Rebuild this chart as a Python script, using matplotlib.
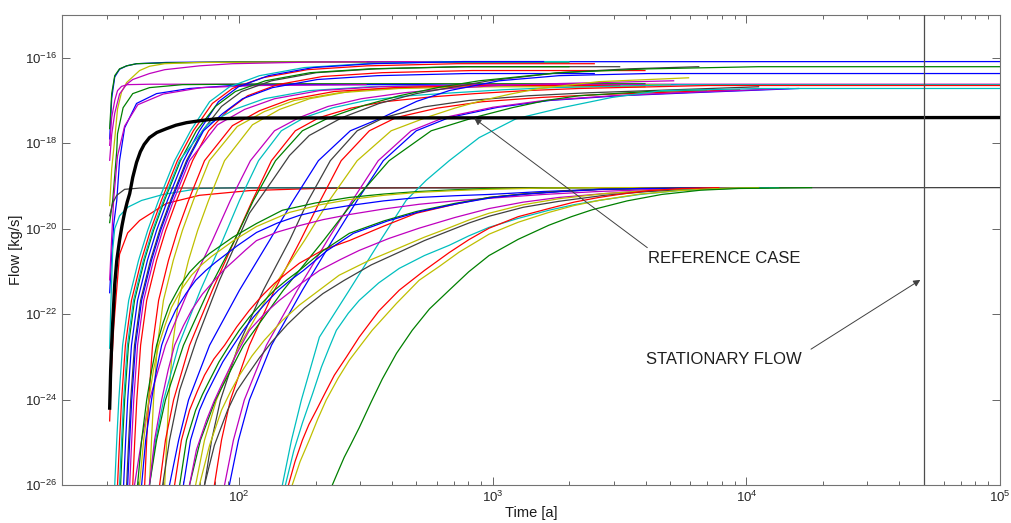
import matplotlib
matplotlib.use("Agg")
import matplotlib.pyplot as plt
import numpy as np
from matplotlib.ticker import FixedLocator, NullLocator, LogLocator, NullFormatter, LogFormatterSciNotation

plt.rcParams['font.family'] = ['Liberation Sans', 'DejaVu Sans']

# ---------------------------------------------------------------------------
# Flow curves: (colour code, log10 time [a], log10 flow [kg/s])
# ---------------------------------------------------------------------------

# cases that respond immediately after the start of the simulation
early_curves = [
    ("b", [1.489, 1.497, 1.509, 1.528, 1.556, 1.595, 1.713, 2.0, 5.0],
          [-17.9, -16.95, -16.45, -16.27, -16.19, -16.14, -16.11, -16.095, -16.09]),
    ("g", [1.489, 1.497, 1.509, 1.528, 1.556, 1.595, 1.713, 2.0, 3.3],
          [-17.66, -16.84, -16.42, -16.26, -16.19, -16.14, -16.12, -16.10, -16.10]),
    ("y", [1.489, 1.497, 1.509, 1.520, 1.536, 1.556, 1.607, 1.646, 1.706, 1.843, 2.2, 2.5],
          [-19.46, -18.6, -17.9, -17.2, -16.8, -16.58, -16.30, -16.2, -16.14, -16.11, -16.10, -16.10]),
    ("m", [1.489, 1.497, 1.509, 1.520, 1.536, 1.560, 1.65, 5.0],
          [-18.05, -17.4, -17.0, -16.77, -16.67, -16.63, -16.62, -16.62]),
    ("m", [1.489, 1.497, 1.509, 1.528, 1.556, 1.580, 1.646, 1.706, 1.843, 1.973, 2.3, 2.8],
          [-18.4, -17.8, -17.3, -16.85, -16.62, -16.51, -16.37, -16.28, -16.19, -16.14, -16.10, -16.09]),
    ("g", [1.489, 1.501, 1.517, 1.520, 1.542, 1.580, 1.646, 1.776, 2.2, 3.6],
          [-19.86, -19.34, -18.17, -17.78, -17.17, -16.84, -16.70, -16.63, -16.61, -16.61]),
    ("b", [1.489, 1.497, 1.505, 1.517, 1.528, 1.548, 1.595, 1.674, 1.804, 1.973, 2.3, 5.0],
          [-21.5, -20.6, -19.9, -19.34, -18.41, -17.64, -17.07, -16.84, -16.72, -16.65, -16.63, -16.63]),
    ("m", [1.489, 1.497, 1.505, 1.520, 1.548, 1.60, 1.70, 1.85, 2.08, 2.5],
          [-21.2, -20.2, -19.3, -18.3, -17.6, -17.1, -16.85, -16.7, -16.65, -16.63]),
    ("c", [1.489, 1.493, 1.497, 1.501, 1.509, 1.528, 1.560, 1.615, 1.70, 1.843, 2.0, 3.2],
          [-22.8, -21.9, -21.2, -20.5, -20.0, -19.7, -19.5, -19.34, -19.2, -19.06, -19.04, -19.04]),
    ("r", [1.489, 1.497, 1.505, 1.513, 1.528, 1.560, 1.607, 1.713, 1.843, 2.04, 2.3, 2.7, 3.3],
          [-24.5, -23.2, -22.3, -21.7, -20.6, -20.1, -19.81, -19.41, -19.22, -19.11, -19.06, -19.04, -19.04]),
    ("k", [1.489, 1.501, 1.517, 1.548, 1.607, 5.0],
          [-19.7, -19.4, -19.22, -19.08, -19.05, -19.04]),
]

# steep break-through curves reaching the upper plateaus early
steep_curves = [
    ("c", [1.509, 1.517, 1.525, 1.540, 1.564, 1.603, 1.639, 1.682, 1.745, 1.808, 1.883, 1.962, 2.080, 2.257, 2.493, 2.848, 3.3],
          [-26.00, -24.95, -24.01, -22.73, -21.68, -20.74, -20.04, -19.34, -18.41, -17.71, -17.03, -16.68, -16.42, -16.23, -16.14, -16.09, -16.09]),
    ("r", [1.520, 1.528, 1.536, 1.551, 1.575, 1.614, 1.650, 1.693, 1.756, 1.819, 1.894, 1.973, 2.091, 2.268, 2.504, 2.859, 3.4],
          [-26.00, -24.95, -24.01, -22.73, -21.68, -20.74, -20.04, -19.34, -18.41, -17.71, -17.07, -16.72, -16.47, -16.28, -16.19, -16.14, -16.14]),
    ("b", [1.544, 1.552, 1.560, 1.575, 1.599, 1.638, 1.674, 1.717, 1.780, 1.843, 1.918, 1.997, 2.115, 2.292, 2.528, 2.883, 3.2],
          [-26.00, -24.95, -24.01, -22.73, -21.68, -20.74, -20.04, -19.34, -18.41, -17.71, -17.03, -16.68, -16.42, -16.23, -16.14, -16.09, -16.09]),
    ("k", [1.556, 1.564, 1.572, 1.587, 1.611, 1.650, 1.686, 1.729, 1.792, 1.855, 1.930, 2.009, 2.127, 2.304, 2.540, 2.895, 3.5],
          [-26.00, -24.95, -24.01, -22.73, -21.68, -20.74, -20.04, -19.34, -18.41, -17.71, -17.14, -16.79, -16.54, -16.35, -16.26, -16.21, -16.21]),
    ("r", [1.580, 1.588, 1.596, 1.611, 1.635, 1.674, 1.710, 1.753, 1.816, 1.879, 1.954, 2.033, 2.151, 2.328, 2.564, 2.919, 3.6],
          [-26.00, -24.95, -24.01, -22.73, -21.68, -20.74, -20.04, -19.34, -18.41, -17.71, -17.24, -16.89, -16.63, -16.44, -16.35, -16.30, -16.30]),
    ("g", [1.532, 1.540, 1.548, 1.563, 1.587, 1.626, 1.662, 1.705, 1.768, 1.831, 1.906, 1.985, 2.103, 2.280, 2.516, 2.871, 3.3],
          [-26.00, -24.95, -24.01, -22.73, -21.68, -20.74, -20.04, -19.34, -18.41, -17.71, -17.14, -16.79, -16.54, -16.35, -16.26, -16.21, -16.21]),
    ("c", [1.528, 1.536, 1.544, 1.559, 1.583, 1.622, 1.658, 1.701, 1.764, 1.874, 1.981, 2.099, 2.276, 2.512, 2.867, 3.5],
          [-26.00, -24.95, -24.01, -22.73, -21.68, -20.74, -20.04, -19.34, -18.41, -17.57, -17.21, -16.96, -16.77, -16.68, -16.63, -16.63]),
    ("y", [1.646, 1.654, 1.662, 1.677, 1.701, 1.740, 1.776, 1.819, 1.882, 1.992, 2.099, 2.217, 2.394, 2.630, 2.985, 3.6],
          [-26.00, -24.95, -24.01, -22.73, -21.68, -20.74, -20.04, -19.34, -18.41, -17.61, -17.26, -17.00, -16.82, -16.72, -16.68, -16.68]),
    ("y", [1.706, 1.714, 1.722, 1.737, 1.761, 1.800, 1.836, 1.879, 1.942, 2.052, 2.159, 2.277, 2.454, 2.690, 3.045, 3.7],
          [-26.00, -24.95, -24.01, -22.73, -21.68, -20.74, -20.04, -19.34, -18.41, -17.57, -17.21, -16.96, -16.77, -16.68, -16.63, -16.63]),
    ("m", [1.568, 1.576, 1.584, 1.599, 1.623, 1.662, 1.698, 1.741, 1.804, 1.914, 2.021, 2.139, 2.316, 2.552, 2.907, 3.6],
          [-26.00, -24.95, -24.01, -22.73, -21.68, -20.74, -20.04, -19.34, -18.41, -17.57, -17.21, -16.96, -16.77, -16.68, -16.63, -16.63]),
    ("b", [1.560, 1.568, 1.576, 1.591, 1.615, 1.654, 1.690, 1.733, 1.796, 1.859, 1.934, 2.013, 2.131, 2.308, 2.544, 2.899, 3.4],
          [-26.00, -24.95, -24.01, -22.73, -21.68, -20.74, -20.04, -19.34, -18.41, -17.71, -17.31, -16.96, -16.70, -16.51, -16.42, -16.37, -16.37]),
    ("r", [1.627, 1.635, 1.643, 1.658, 1.682, 1.721, 1.757, 1.800, 1.863, 1.973, 2.080, 2.198, 2.375, 2.611, 2.966, 3.5],
          [-26.00, -24.95, -24.01, -22.73, -21.68, -20.74, -20.04, -19.34, -18.41, -17.59, -17.24, -16.98, -16.79, -16.70, -16.65, -16.65]),
]

# slower break-through curves reaching the upper plateaus later
late_curves = [
    ("m", [1.587, 1.615, 1.646, 1.709, 1.800, 1.894, 1.965, 2.044, 2.139, 2.237, 2.35, 2.481, 2.65, 2.828, 3.02, 3.221, 3.713],
          [-26.00, -24.95, -24.01, -22.73, -21.44, -20.28, -19.34, -18.41, -17.71, -17.40, -17.14, -16.96, -16.82, -16.72, -16.65, -16.61, -16.54]),
    ("c", [1.646, 1.670, 1.702, 1.761, 1.847, 1.934, 2.001, 2.076, 2.166, 2.257, 2.37, 2.501, 2.67, 2.847, 3.04, 3.241, 3.733, 5.0],
          [-26.00, -24.95, -24.01, -22.73, -21.44, -20.28, -19.34, -18.41, -17.71, -17.40, -17.17, -17.00, -16.89, -16.82, -16.75, -16.70, -16.63, -16.63]),
    ("r", [1.686, 1.709, 1.741, 1.804, 1.894, 1.981, 2.052, 2.127, 2.221, 2.316, 2.44, 2.572, 2.75, 2.930, 3.13, 3.339, 3.851, 5.0],
          [-26.00, -24.95, -24.01, -22.73, -21.44, -20.28, -19.34, -18.41, -17.71, -17.40, -17.18, -17.03, -16.92, -16.84, -16.77, -16.72, -16.65, -16.65]),
    ("k", [1.698, 1.725, 1.765, 1.831, 1.922, 2.040, 2.131, 2.198, 2.276, 2.406, 2.552, 2.698, 2.985, 3.261, 3.536, 3.812],
          [-26.00, -24.95, -23.78, -22.61, -21.21, -19.64, -18.87, -18.29, -17.82, -17.40, -17.07, -16.84, -16.54, -16.35, -16.26, -16.21]),
    ("b", [1.725, 1.761, 1.800, 1.883, 2.001, 2.119, 2.213, 2.312, 2.438, 2.564, 2.70, 2.828, 3.024, 3.261, 3.615, 5.0],
          [-26.00, -24.95, -24.01, -22.73, -21.44, -20.28, -19.34, -18.41, -17.71, -17.40, -17.02, -16.77, -16.54, -16.42, -16.37, -16.37]),
    ("k", [1.863, 1.891, 1.926, 1.997, 2.095, 2.198, 2.272, 2.359, 2.465, 2.572, 2.73, 2.906, 3.14, 3.379, 4.048],
          [-26.00, -24.95, -24.01, -22.73, -21.44, -20.28, -19.34, -18.41, -17.71, -17.40, -17.15, -17.00, -16.89, -16.82, -16.68]),
    ("r", [1.902, 1.930, 1.965, 2.040, 2.139, 2.241, 2.320, 2.402, 2.513, 2.619, 2.78, 2.958, 3.19, 3.430, 3.973],
          [-26.00, -24.95, -24.01, -22.73, -21.44, -20.28, -19.34, -18.41, -17.71, -17.40, -17.18, -17.03, -16.93, -16.86, -16.75]),
    ("y", [1.828, 1.863, 1.910, 2.001, 2.127, 2.257, 2.355, 2.465, 2.599, 2.737, 2.85, 2.958, 3.07, 3.182, 3.418, 3.772],
          [-26.00, -24.95, -24.01, -22.73, -21.44, -20.28, -19.34, -18.41, -17.71, -17.40, -17.18, -17.00, -16.85, -16.72, -16.56, -16.47]),
    ("b", [1.961, 1.997, 2.040, 2.127, 2.249, 2.367, 2.465, 2.568, 2.698, 2.828, 3.02, 3.225, 3.50, 3.780, 4.206],
          [-26.00, -24.95, -24.01, -22.73, -21.44, -20.28, -19.34, -18.41, -17.71, -17.40, -17.16, -17.00, -16.89, -16.82, -16.72]),
    ("m", [1.942, 1.977, 2.020, 2.107, 2.229, 2.347, 2.446, 2.548, 2.678, 2.808, 3.00, 3.202, 3.47, 3.733, 4.166],
          [-26.00, -24.95, -24.01, -22.73, -21.44, -20.28, -19.34, -18.41, -17.71, -17.40, -17.16, -17.00, -16.89, -16.82, -16.72]),
    ("g", [1.804, 1.847, 1.906, 2.017, 2.174, 2.332, 2.454, 2.591, 2.757, 2.926, 3.076, 3.21, 3.339, 3.615, 3.843],
          [-26.00, -24.95, -24.01, -22.73, -21.44, -20.28, -19.34, -18.41, -17.71, -17.40, -17.17, -17.00, -16.89, -16.79, -16.75]),
    ("g", [1.646, 1.674, 1.709, 1.780, 1.879, 1.981, 2.056, 2.143, 2.249, 2.355, 2.49, 2.631, 2.79, 2.946, 3.261, 3.615, 4.048, 5.0],
          [-26.00, -24.95, -24.01, -22.73, -21.44, -20.28, -19.34, -18.41, -17.71, -17.40, -17.12, -16.89, -16.69, -16.54, -16.35, -16.26, -16.21, -16.21]),
    ("c", [2.170, 2.206, 2.245, 2.316, 2.434, 2.564, 2.658, 2.737, 2.828, 2.946, 3.091, 3.272, 3.469, 3.666, 4.060, 5.0],
          [-26.00, -24.95, -24.01, -22.54, -21.44, -20.21, -19.34, -18.87, -18.41, -17.87, -17.43, -17.17, -16.93, -16.77, -16.72, -16.72]),
]

# curves levelling off at the lower plateau
bundle_curves = [
    ("g", [1.599, 1.615, 1.635, 1.655, 1.674, 1.70, 1.725, 1.765, 1.804, 1.843, 1.883, 1.975, 2.068, 2.170, 2.30, 2.434, 2.57, 2.709, 2.85, 2.985, 3.15, 3.339, 3.812],
          [-26.00, -24.95, -24.01, -23.3, -22.73, -22.2, -21.79, -21.35, -21.02, -20.78, -20.58, -20.2, -19.88, -19.57, -19.40, -19.27, -19.19, -19.13, -19.09, -19.06, -19.05, -19.04, -19.04]),
    ("y", [1.607, 1.623, 1.643, 1.662, 1.682, 1.708, 1.733, 1.772, 1.812, 1.851, 1.891, 1.98, 2.068, 2.198, 2.32, 2.434, 2.57, 2.709, 2.85, 2.985, 3.2, 3.418, 3.891],
          [-26.00, -24.95, -24.01, -23.3, -22.73, -22.25, -21.84, -21.42, -21.09, -20.85, -20.65, -20.27, -19.95, -19.62, -19.44, -19.32, -19.22, -19.15, -19.11, -19.08, -19.05, -19.04, -19.04]),
    ("b", [1.615, 1.631, 1.654, 1.674, 1.694, 1.72, 1.749, 1.79, 1.828, 1.868, 1.906, 1.99, 2.068, 2.15, 2.237, 2.33, 2.434, 2.57, 2.709, 2.85, 2.985, 3.2, 3.418, 3.969],
          [-26.00, -24.95, -24.01, -23.3, -22.73, -22.28, -21.91, -21.52, -21.21, -20.98, -20.79, -20.41, -20.09, -19.87, -19.69, -19.56, -19.46, -19.35, -19.27, -19.23, -19.20, -19.13, -19.08, -19.04]),
    ("m", [1.646, 1.666, 1.694, 1.72, 1.745, 1.78, 1.812, 1.855, 1.902, 1.94, 1.981, 2.025, 2.068, 2.15, 2.237, 2.33, 2.434, 2.57, 2.709, 2.85, 2.985, 3.2, 3.418, 3.7, 4.048],
          [-26.00, -24.95, -24.01, -23.3, -22.73, -22.27, -21.91, -21.53, -21.21, -20.96, -20.74, -20.5, -20.28, -20.08, -19.93, -19.79, -19.67, -19.54, -19.43, -19.35, -19.29, -19.2, -19.13, -19.07, -19.04]),
    ("r", [1.745, 1.772, 1.804, 1.835, 1.863, 1.90, 1.942, 1.99, 2.040, 2.09, 2.139, 2.19, 2.237, 2.33, 2.434, 2.57, 2.698, 2.85, 2.985, 3.12, 3.261, 3.42, 3.576, 3.891],
          [-26.00, -24.95, -24.25, -23.8, -23.43, -23.05, -22.73, -22.3, -21.91, -21.57, -21.28, -21.03, -20.81, -20.5, -20.28, -19.94, -19.64, -19.43, -19.27, -19.19, -19.13, -19.08, -19.06, -19.04]),
    ("g", [1.765, 1.792, 1.828, 1.855, 1.883, 1.92, 1.961, 2.0, 2.040, 2.09, 2.139, 2.19, 2.237, 2.33, 2.434, 2.57, 2.698, 2.85, 2.985, 3.12, 3.261, 3.42, 3.576, 3.891],
          [-26.00, -24.95, -24.25, -23.88, -23.55, -23.12, -22.73, -22.38, -22.07, -21.74, -21.44, -21.19, -20.98, -20.52, -20.11, -19.82, -19.60, -19.41, -19.27, -19.19, -19.13, -19.08, -19.06, -19.04]),
    ("b", [1.780, 1.808, 1.843, 1.870, 1.898, 1.935, 1.977, 2.016, 2.056, 2.105, 2.154, 2.205, 2.253, 2.345, 2.450, 2.585, 2.713, 2.865, 3.001, 3.135, 3.276, 3.435, 3.591, 3.930],
          [-26.00, -24.95, -24.25, -23.88, -23.55, -23.12, -22.73, -22.38, -22.07, -21.74, -21.44, -21.19, -20.98, -20.52, -20.11, -19.82, -19.60, -19.41, -19.27, -19.19, -19.13, -19.08, -19.06, -19.04]),
    ("m", [1.804, 1.831, 1.871, 1.90, 1.930, 1.985, 2.040, 2.10, 2.158, 2.24, 2.316, 2.40, 2.473, 2.59, 2.709, 2.85, 2.985, 3.12, 3.261, 3.44, 3.615, 3.83, 4.048],
          [-26.00, -25.18, -24.48, -24.05, -23.66, -22.98, -22.38, -21.99, -21.68, -21.3, -20.98, -20.72, -20.51, -20.23, -19.99, -19.74, -19.53, -19.38, -19.27, -19.18, -19.11, -19.06, -19.04]),
    ("y", [1.843, 1.883, 1.930, 1.965, 2.001, 2.05, 2.099, 2.17, 2.237, 2.32, 2.394, 2.51, 2.631, 2.73, 2.828, 2.905, 2.985, 3.12, 3.261, 3.44, 3.615, 3.83, 4.048],
          [-26.00, -25.07, -24.25, -23.82, -23.43, -22.98, -22.61, -22.15, -21.79, -21.42, -21.09, -20.75, -20.45, -20.2, -19.98, -19.80, -19.64, -19.44, -19.30, -19.18, -19.11, -19.06, -19.04]),
    ("k", [1.863, 1.902, 1.954, 1.99, 2.032, 2.08, 2.127, 2.19, 2.257, 2.33, 2.414, 2.52, 2.631, 2.73, 2.828, 2.905, 2.985, 3.12, 3.261, 3.44, 3.615, 3.85, 4.087],
          [-26.00, -25.07, -24.25, -23.8, -23.43, -23.02, -22.66, -22.24, -21.86, -21.52, -21.21, -20.85, -20.55, -20.28, -20.05, -19.87, -19.71, -19.5, -19.36, -19.22, -19.13, -19.07, -19.04]),
    ("c", [2.182, 2.215, 2.249, 2.29, 2.324, 2.355, 2.383, 2.43, 2.473, 2.55, 2.631, 2.73, 2.828, 2.905, 2.985, 3.1, 3.221, 3.32, 3.418, 3.58, 3.733, 3.93, 4.127],
          [-26.00, -25.2, -24.55, -23.85, -23.24, -22.78, -22.38, -21.98, -21.68, -21.27, -20.93, -20.63, -20.39, -20.17, -19.97, -19.76, -19.57, -19.44, -19.34, -19.2, -19.11, -19.06, -19.04]),
    ("r", [2.194, 2.22, 2.249, 2.275, 2.304, 2.34, 2.375, 2.422, 2.473, 2.55, 2.631, 2.73, 2.828, 2.905, 2.985, 3.1, 3.221, 3.32, 3.418, 3.52, 3.615, 3.75, 3.891],
          [-26.00, -25.45, -24.95, -24.58, -24.25, -23.83, -23.43, -23.01, -22.54, -21.93, -21.44, -20.98, -20.56, -20.26, -19.99, -19.72, -19.53, -19.38, -19.27, -19.18, -19.11, -19.06, -19.04]),
    ("y", [2.209, 2.24, 2.276, 2.31, 2.343, 2.39, 2.434, 2.48, 2.524, 2.62, 2.709, 2.79, 2.867, 2.985, 3.1, 3.221, 3.32, 3.418, 3.58, 3.733, 3.9, 4.048],
          [-26.00, -25.45, -24.95, -24.45, -24.01, -23.5, -23.08, -22.72, -22.38, -21.75, -21.21, -20.88, -20.55, -20.13, -19.85, -19.62, -19.46, -19.34, -19.19, -19.11, -19.06, -19.04]),
    ("g", [2.367, 2.39, 2.414, 2.44, 2.473, 2.52, 2.564, 2.62, 2.682, 2.75, 2.828, 2.905, 2.985, 3.1, 3.221, 3.31, 3.391, 3.53, 3.666, 3.82, 3.969, 4.257],
          [-26.00, -25.68, -25.35, -25.05, -24.66, -24.06, -23.52, -22.92, -22.38, -21.88, -21.44, -21.01, -20.63, -20.25, -19.92, -19.72, -19.56, -19.35, -19.2, -19.1, -19.06, -19.04]),
]

# reference case (thick black)
ref_log_t = [1.489, 1.493, 1.497, 1.501, 1.509, 1.517, 1.528, 1.538, 1.548, 1.558, 1.568, 1.580,
             1.595, 1.610, 1.625, 1.646, 1.675, 1.713, 1.750, 1.792, 1.850, 1.910, 2.0, 2.1, 5.0]
ref_log_q = [-24.2, -23.3, -22.7, -22.2, -21.3, -20.75, -20.27, -19.92, -19.62, -19.38, -19.18, -18.80,
             -18.45, -18.20, -18.03, -17.87, -17.75, -17.66, -17.58, -17.52, -17.47, -17.43, -17.415, -17.41, -17.40]

# time at which the flow becomes stationary [a]
stationary_t = 5.0e4

# annotation targets (time [a], flow [kg/s])
ref_label_point = (845.0, 10 ** -17.42)
stationary_label_point = (4.85e4, 10 ** -21.2)

LINE_COLORS = {
    "b": (0.0, 0.0, 1.0),
    "g": (0.0, 0.5, 0.0),
    "r": (1.0, 0.0, 0.0),
    "c": (0.0, 0.75, 0.75),
    "m": (0.75, 0.0, 0.75),
    "y": (0.75, 0.75, 0.0),
    "k": (0.25, 0.25, 0.25),
}

fig = plt.figure(figsize=(10.11, 5.23), dpi=100)
ax = fig.add_axes([62 / 1011, 1 - 485 / 523, 938 / 1011, 470 / 523])

for group in (early_curves, steep_curves, late_curves, bundle_curves):
    for code, log_t, log_q in group:
        ax.plot(10 ** np.asarray(log_t), 10 ** np.asarray(log_q),
                color=LINE_COLORS[code], lw=0.9, solid_joinstyle="round")

ax.plot(10 ** np.asarray(ref_log_t), 10 ** np.asarray(ref_log_q),
        color="black", lw=2.4, solid_joinstyle="round", zorder=5)

ax.axvline(stationary_t, color="0.3", lw=0.9, zorder=6)

ax.set_xscale("log")
ax.set_yscale("log")
ax.set_xlim(20, 1e5)
ax.set_ylim(1e-26, 1e-15)

ax.xaxis.set_major_locator(LogLocator(base=10, numticks=10))
ax.xaxis.set_minor_locator(LogLocator(base=10, subs=np.arange(2, 10), numticks=20))
ax.xaxis.set_minor_formatter(NullFormatter())
ax.xaxis.set_major_formatter(LogFormatterSciNotation())
ax.yaxis.set_major_locator(FixedLocator([1e-26, 1e-24, 1e-22, 1e-20, 1e-18, 1e-16]))
ax.yaxis.set_minor_locator(NullLocator())
ax.yaxis.set_major_formatter(LogFormatterSciNotation())

ax.tick_params(which="both", direction="in", top=True, right=True,
               color="0.4", labelcolor="0.15", labelsize=9.5)
ax.tick_params(which="major", length=6, width=0.7)
ax.tick_params(which="minor", length=3, width=0.7)
for sp in ax.spines.values():
    sp.set_color("0.45")
    sp.set_linewidth(0.8)

ax.set_xlabel("Time [a]", fontsize=10.5, color="0.1", labelpad=1)
ax.set_ylabel("Flow [kg/s]", fontsize=10.5, color="0.1", labelpad=1)

ax.text(0.625, 0.481, "REFERENCE CASE", transform=ax.transAxes,
        fontsize=12, ha="left", va="center", color="0.12")
ax.annotate("", xy=ref_label_point, xytext=(0.624, 0.505), textcoords="axes fraction",
            arrowprops=dict(arrowstyle="-|>", color="0.25", lw=0.7,
                            mutation_scale=10, shrinkA=0, shrinkB=0), zorder=7)

ax.text(0.623, 0.266, "STATIONARY FLOW", transform=ax.transAxes,
        fontsize=12, ha="left", va="center", color="0.12")
ax.annotate("", xy=stationary_label_point, xytext=(0.7985, 0.289), textcoords="axes fraction",
            arrowprops=dict(arrowstyle="-|>", color="0.25", lw=0.7,
                            mutation_scale=10, shrinkA=0, shrinkB=0), zorder=7)

fig.savefig("out.png", dpi=100)
